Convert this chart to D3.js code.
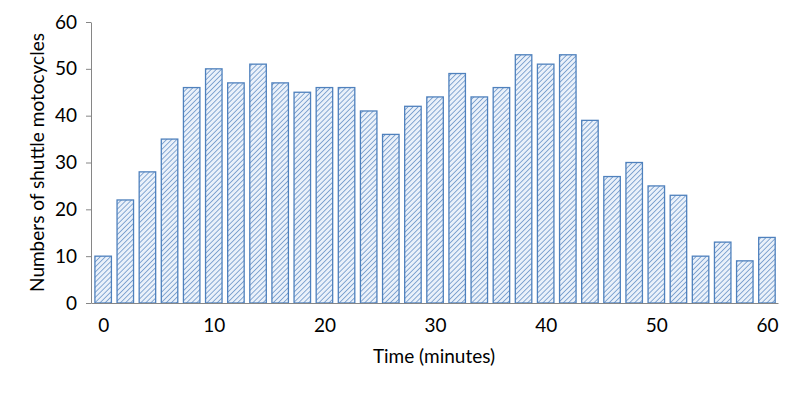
<!DOCTYPE html>
<html>
<head>
<meta charset="utf-8">
<script src="https://cdn.jsdelivr.net/npm/d3@7"></script>
<style>
  body { margin: 0; background: #fff; }
  svg { display: block; }
</style>
</head>
<body>
<div id="chart"></div>
<script>
// minutes 0..60 every 2 minutes
var minutes = d3.range(0, 61, 2);
var counts = [10, 22, 28, 35, 46, 50, 47, 51, 47, 45, 46, 46, 41, 36, 42, 44,
              49, 44, 46, 53, 51, 53, 39, 27, 30, 25, 23, 10, 13, 9, 14];
var xTicks = [0, 10, 20, 30, 40, 50, 60];
var yTicks = [0, 10, 20, 30, 40, 50, 60];

var width = 800, height = 395;
var mLeft = 91, mRight = 778, mTop = 22, mBottom = 303;
var font = "Lato, 'Open Sans', sans-serif";

var svg = d3.select("#chart").append("svg")
  .attr("width", width)
  .attr("height", height);

var defs = svg.append("defs");
var pat = defs.append("pattern")
  .attr("id", "hatch")
  .attr("patternUnits", "userSpaceOnUse")
  .attr("width", 3.6)
  .attr("height", 3.6)
  .attr("patternTransform", "rotate(45)");
pat.append("rect").attr("width", 3.6).attr("height", 3.6).attr("fill", "#eaf1fa");
pat.append("line")
  .attr("x1", 0).attr("y1", 0).attr("x2", 0).attr("y2", 3.6)
  .attr("stroke", "#4f81bd")
  .attr("stroke-width", 1.3);

var x = d3.scaleLinear().domain([-1.1, 61]).range([mLeft, mRight]);
var y = d3.scaleLinear().domain([0, 60]).range([mBottom, mTop]);
var barW = 16.5;

// bars
svg.selectAll(".bar")
  .data(minutes)
  .enter().append("rect")
  .attr("class", "bar")
  .attr("x", function(d) { return x(d) - barW / 2; })
  .attr("y", function(d, i) { return y(counts[i]); })
  .attr("width", barW)
  .attr("height", function(d, i) { return y(0) - y(counts[i]); })
  .attr("fill", "url(#hatch)")
  .attr("stroke", "#4f81bd")
  .attr("stroke-width", 1.3);

// y axis
var yAxis = svg.append("g")
  .attr("transform", "translate(" + mLeft + ",0)")
  .call(d3.axisLeft(y).tickValues(yTicks).tickSize(5).tickPadding(9).tickSizeOuter(0));
yAxis.select(".domain").attr("stroke", "#868686");
yAxis.selectAll(".tick line").attr("stroke", "#868686");
yAxis.selectAll("text")
  .style("font-family", font)
  .style("font-size", "19px")
  .attr("fill", "#000");

// x axis (no tick marks)
var xAxis = svg.append("g")
  .attr("transform", "translate(0," + mBottom + ")")
  .call(d3.axisBottom(x).tickValues(xTicks).tickSize(0).tickPadding(16).tickSizeOuter(0));
xAxis.select(".domain").attr("stroke", "#868686");
xAxis.selectAll("text")
  .style("font-family", font)
  .style("font-size", "19px")
  .attr("fill", "#000");

// axis titles
svg.append("text")
  .attr("x", 434)
  .attr("y", 363)
  .attr("text-anchor", "middle")
  .style("font-family", font)
  .style("font-size", "19px")
  .text("Time (minutes)");

svg.append("text")
  .attr("transform", "translate(44," + ((mTop + mBottom) / 2) + ") rotate(-90)")
  .attr("text-anchor", "middle")
  .style("font-family", font)
  .style("font-size", "19px")
  .text("Numbers of shuttle motocycles");
</script>
</body>
</html>
